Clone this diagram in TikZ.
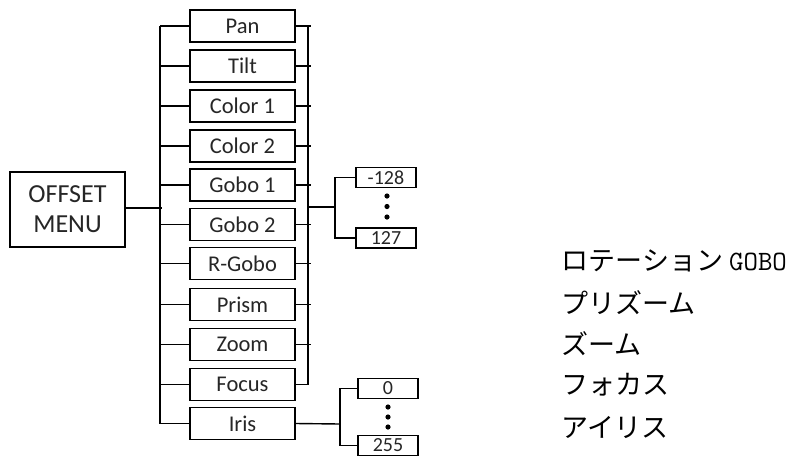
\documentclass[tikz,border=0pt]{standalone}
\usepackage{fontspec}
\setmainfont{Carlito}
\newfontfamily\jpfont{Noto Sans CJK JP}
\begin{document}
\begin{tikzpicture}[x=1pt,y=-1pt, line width=1.4pt,
  item/.style={draw, line width=1.4pt, minimum width=105pt, minimum height=32pt, inner sep=0pt, text=black!85, font=\fontsize{22.5}{22.5}\selectfont},
  menubox/.style={draw, line width=1.4pt, minimum width=115pt, minimum height=75pt, inner sep=0pt, align=center, text=black!85, font=\fontsize{26}{30}\selectfont},
  rng/.style={draw, line width=1.4pt, minimum width=60pt, minimum height=20pt, inner sep=0pt, text=black!85, font=\fontsize{20}{20}\selectfont},
  jp/.style={anchor=west, inner sep=0pt, font=\jpfont\fontsize{27}{27}\selectfont},
  dot/.style={fill=black, draw=none}]
\useasboundingbox (0,0) rectangle (790,456);
\node[menubox] (menu) at (67.5,209.5) {OFFSET\\MENU};
\foreach \n/\t/\y in {pan/Pan/26, tilt/Tilt/66, c1/Color 1/106, c2/Color 2/146, g1/Gobo 1/185, g2/Gobo 2/224.5, rg/R-Gobo/263.5, pr/Prism/304.5, zo/Zoom/344.5, fo/Focus/384.5, ir/Iris/423.5}
  \node[item] (\n) at (242.5,\y) {\t};
\coordinate (lbus) at (160,0);
\coordinate (rbus) at (308,0);
% left bus
\draw (pan.west -| lbus) -- (ir.west -| lbus);
\draw (menu.east |- 0,208) -- ([xshift=2pt]lbus |- 0,208);
\foreach \n in {pan,tilt,c1,c2,g1,g2,rg,pr,zo,fo,ir}
  \draw (\n.west) -- (\n.west -| lbus);
% right bus
\draw ([yshift=1pt]pan.east -| rbus) -- (fo.east -| rbus);
\foreach \n in {pan,tilt,c1,c2,g1,g2,rg,pr,zo}
  \draw (\n.east) -- ([xshift=3pt]\n.east -| rbus);
\draw (fo.east) -- (fo.east -| rbus);
% gobo range
\node[rng] (m128) at (386,177.5) {-128};
\node[rng] (p127) at (386,238) {127};
\coordinate (gfork) at (335,207);
\draw (gfork -| rbus) -- (gfork);
\draw (m128.west) -| (gfork) |- (p127.west);
\foreach \y in {196,206.5,217} \fill[dot] (387,\y) circle (2.6pt);
% iris range
\node[rng] (z0) at (388,388.5) {0};
\node[rng] (z255) at (388,445.3) {255};
\coordinate (ifork) at (340,424);
\draw (ir.east) -- (ifork);
\draw (z0.west) -| (ifork) |- (z255.west);
\foreach \y in {407,417,427} \fill[dot] (388,\y) circle (2.6pt);
% japanese labels
\node[jp] (t1) at (561,261) {ロテーション\hspace{6pt}{\ttfamily\fontsize{28}{28}\selectfont GOBO}};
\node[jp] (t2) at (561,303) {プリズーム};
\node[jp] (t3) at (561,344) {ズーム};
\node[jp] (t4) at (561,385) {フォカス};
\node[jp] (t5) at (561,427) {アイリス};
\end{tikzpicture}
\end{document}
